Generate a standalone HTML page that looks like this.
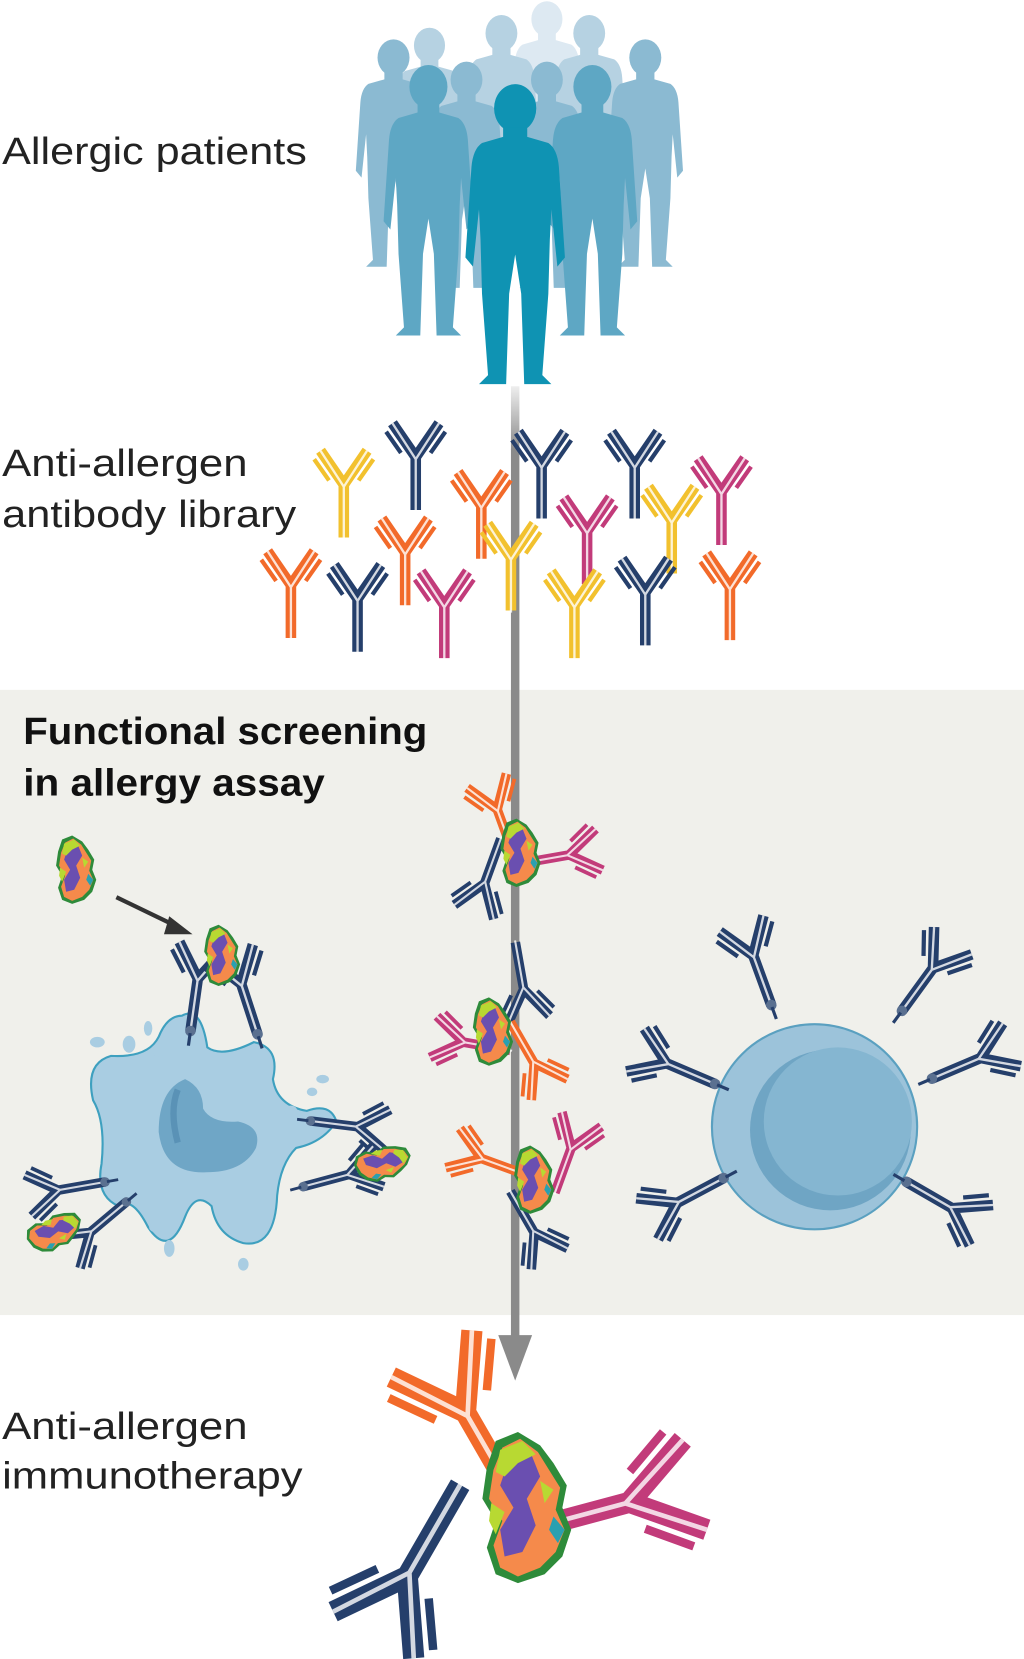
<!DOCTYPE html>
<html><head><meta charset="utf-8"><style>
html,body{margin:0;padding:0;background:#fff}
svg{display:block}
text{font-family:"Liberation Sans",sans-serif}
</style></head><body>
<svg width="1024" height="1659" viewBox="0 0 968 1568" xmlns="http://www.w3.org/2000/svg">
<defs>
<linearGradient id="lg" x1="0" y1="0" x2="0" y2="1"><stop offset="0" stop-color="#eee"/><stop offset="1" stop-color="#8a8a8a"/></linearGradient>
<g id="per">
<ellipse cx="0" cy="8.5" rx="7" ry="8"/>
<path d="M-4,15 L-4,18 L-11,20 Q-14,22 -14.5,28 L-16.5,58 L-14,61 L-12,42 L-11.5,52 L-11,70 L-9,97 L-12,100 L-3,100 L-2,70 L0,57 L2,70 L3,100 L12,100 L9,97 L11,70 L11.5,52 L12,42 L14,61 L16.5,58 L14.5,28 Q14,22 11,20 L4,18 L4,15 Z"/>
</g>
<g id="ab" fill="none">
<path d="M0,50 L0,0 L-22,-32 M0,0 L22,-32" stroke="currentColor" stroke-width="10"/>
<path d="M0,52 L0,2 L-22,-32 M0,2 L22,-32" stroke="#fff" stroke-opacity="0.8" stroke-width="2.2"/>
<path d="M-14,-4 L-28,-24 M14,-4 L28,-24" stroke="currentColor" stroke-width="4"/>
</g>
<g id="abk">
<use href="#ab"/>
<circle cx="0" cy="50" r="5" fill="#5a7090"/>
<path d="M0,52 L0,64" stroke="#253f6b" stroke-width="3"/>
</g>
<g id="alg">
<path d="M-14,-30 L-4,-34 L6,-28 L12,-20 L18,-10 L16,0 L20,10 L16,22 L8,30 L-4,34 L-14,30 L-18,18 L-14,6 L-20,-4 L-18,-18 Z" fill="#2e8b3a"/>
<path d="M-11,-27 L-3,-31 L5,-25 L10,-17 L15,-9 L13,1 L17,10 L13,20 L6,27 L-4,31 L-12,27 L-15,17 L-11,6 L-17,-4 L-15,-17 Z" fill="#f58a4b"/>
<path d="M-8,-22 L2,-24 L6,-14 L0,-4 L4,8 L-2,20 L-10,22 L-12,10 L-6,0 L-12,-10 Z" fill="#6a4fb0"/>
<path d="M-12,-26 L-2,-30 L4,-24 L-4,-20 L-10,-14 L-14,-16 Z M-16,-2 L-10,2 L-14,12 L-17,6 Z M6,-12 L12,-8 L8,-2 Z" fill="#b8d932"/>
<path d="M12,4 L17,10 L14,16 L10,10 Z" fill="#2aa0b0"/>
</g>
</defs>

<rect x="0" y="652" width="968" height="591" fill="#f0f0eb"/>

<g fill="#dde9f2"><use href="#per" transform="translate(517,0) scale(2.1)"/></g>
<g fill="#b6d2e2">
<use href="#per" transform="translate(406,25) scale(2.1)"/>
<use href="#per" transform="translate(474,13) scale(2.15)"/>
<use href="#per" transform="translate(557,13) scale(2.15)"/>
</g>
<g fill="#8bbad2">
<use href="#per" transform="translate(372,36) scale(2.16)"/>
<use href="#per" transform="translate(610,36) scale(2.16)"/>
<use href="#per" transform="translate(441,57) scale(2.15)"/>
<use href="#per" transform="translate(517,57) scale(2.15)"/>
</g>
<g fill="#5ea7c4">
<use href="#per" transform="translate(405,60) scale(2.57)"/>
<use href="#per" transform="translate(560,60) scale(2.57)"/>
</g>
<g fill="#0f93b3"><use href="#per" transform="translate(487,78) scale(2.85)"/></g>

<rect x="483" y="365" width="8" height="60" fill="url(#lg)"/>
<rect x="483" y="424" width="8" height="845" fill="#8a8a8a"/>
<path d="M471,1262 L503,1262 L487,1305 Z" fill="#8a8a8a"/>

<g font-size="36" fill="#222">
<text x="2" y="155" textLength="288" lengthAdjust="spacingAndGlyphs">Allergic patients</text>
<text x="2" y="450" textLength="232" lengthAdjust="spacingAndGlyphs">Anti-allergen</text>
<text x="2" y="498" textLength="278" lengthAdjust="spacingAndGlyphs">antibody library</text>
<text x="2" y="1360" textLength="232" lengthAdjust="spacingAndGlyphs">Anti-allergen</text>
<text x="2" y="1407" textLength="284" lengthAdjust="spacingAndGlyphs">immunotherapy</text>
</g>
<g font-size="36" font-weight="bold" fill="#111">
<text x="22" y="703" textLength="382" lengthAdjust="spacingAndGlyphs">Functional screening</text>
<text x="22" y="752" textLength="285" lengthAdjust="spacingAndGlyphs">in allergy assay</text>
</g>

<g>
<use href="#ab" color="#f2c12e" x="325" y="458"/>
<use href="#ab" color="#253f6b" x="393" y="432"/>
<use href="#ab" color="#253f6b" x="512" y="440"/>
<use href="#ab" color="#253f6b" x="600" y="440"/>
<use href="#ab" color="#c23b7a" x="682" y="465"/>
<use href="#ab" color="#f26a2a" x="455" y="478"/>
<use href="#ab" color="#c23b7a" x="555" y="502"/>
<use href="#ab" color="#f2c12e" x="635" y="492"/>
<use href="#ab" color="#f26a2a" x="383" y="522"/>
<use href="#ab" color="#f2c12e" x="483" y="527"/>
<use href="#ab" color="#f26a2a" x="275" y="553"/>
<use href="#ab" color="#253f6b" x="338" y="566"/>
<use href="#ab" color="#c23b7a" x="420" y="572"/>
<use href="#ab" color="#f2c12e" x="543" y="572"/>
<use href="#ab" color="#253f6b" x="610" y="560"/>
<use href="#ab" color="#f26a2a" x="690" y="555"/>
</g>

<use href="#alg" transform="translate(72,822) scale(0.95)"/>
<path d="M110,848 L168,876" stroke="#333" stroke-width="4"/>
<path d="M160,866 L182,883 L155,883 Z" fill="#333"/>

<path d="M172,960 Q190,950 196,990 Q210,1000 240,985 Q265,990 258,1020 Q262,1045 290,1050 Q312,1042 318,1060 Q305,1080 280,1085 Q265,1100 262,1130 Q260,1180 230,1175 Q205,1168 200,1140 Q185,1125 175,1150 Q160,1190 140,1160 Q125,1130 112,1140 Q90,1130 96,1100 Q100,1060 88,1040 Q80,1005 105,998 Q140,1000 150,980 Q158,960 172,960 Z" fill="#a9cde2" stroke="#3ea0bf" stroke-width="2"/>
<path d="M175,1020 Q150,1030 150,1070 Q155,1110 195,1108 Q230,1108 242,1085 Q248,1065 225,1060 Q200,1062 192,1048 Q192,1028 175,1020 Z" fill="#6fa6c6"/>
<path d="M168,1030 Q160,1050 168,1080" stroke="#5a92b6" stroke-width="6" fill="none"/>
<g fill="#a9cde2">
<ellipse cx="92" cy="985" rx="7" ry="5"/><ellipse cx="122" cy="987" rx="6" ry="8"/><ellipse cx="140" cy="972" rx="4" ry="7"/><ellipse cx="150" cy="995" rx="5" ry="4"/>
<ellipse cx="275" cy="1050" rx="6" ry="5"/><ellipse cx="295" cy="1032" rx="5" ry="4"/><ellipse cx="305" cy="1020" rx="6" ry="4"/>
<ellipse cx="148" cy="1160" rx="7" ry="5"/><ellipse cx="160" cy="1180" rx="5" ry="8"/><ellipse cx="230" cy="1195" rx="5" ry="6"/>
</g>
<use href="#abk" color="#253f6b" transform="translate(187,925) rotate(8)"/>
<use href="#abk" color="#253f6b" transform="translate(228,930) rotate(-18)"/>
<use href="#alg" transform="translate(210,903) scale(0.85)"/>
<use href="#abk" color="#253f6b" transform="translate(338,1065) rotate(97) scale(0.9)"/>
<use href="#abk" color="#253f6b" transform="translate(330,1110) rotate(75) scale(0.9)"/>
<use href="#alg" transform="translate(362,1100) rotate(80) scale(0.8)"/>
<use href="#abk" color="#253f6b" transform="translate(55,1125) rotate(-100) scale(0.9)"/>
<use href="#abk" color="#253f6b" transform="translate(85,1165) rotate(-130) scale(0.9)"/>
<use href="#alg" transform="translate(52,1165) rotate(70) scale(0.8)"/>

<circle cx="770" cy="1065" r="97" fill="#9cc3da" stroke="#5aa0c0" stroke-width="2"/>
<circle cx="785" cy="1068" r="76" fill="#6fa5c4"/>
<circle cx="792" cy="1060" r="70" fill="#85b6d1"/>
<use href="#abk" color="#253f6b" transform="translate(712,903) rotate(-20)"/>
<use href="#abk" color="#253f6b" transform="translate(882,915) rotate(36)"/>
<use href="#abk" color="#253f6b" transform="translate(630,1005) rotate(-67)"/>
<use href="#abk" color="#253f6b" transform="translate(927,1000) rotate(67)"/>
<use href="#abk" color="#253f6b" transform="translate(640,1137) rotate(-118)"/>
<use href="#abk" color="#253f6b" transform="translate(900,1142) rotate(120)"/>

<use href="#ab" color="#f26a2a" transform="translate(470,765) rotate(-20) scale(0.9)"/>
<use href="#ab" color="#c23b7a" transform="translate(538,808) rotate(80) scale(0.9)"/>
<use href="#ab" color="#253f6b" transform="translate(458,835) rotate(-160) scale(0.9)"/>
<use href="#alg" transform="translate(492,806) scale(0.95)"/>

<use href="#ab" color="#253f6b" transform="translate(495,935) rotate(-190) scale(0.9)"/>
<use href="#ab" color="#c23b7a" transform="translate(438,985) rotate(-80) scale(0.9)"/>
<use href="#ab" color="#f26a2a" transform="translate(505,1005) rotate(150) scale(0.9)"/>
<use href="#alg" transform="translate(466,975) scale(0.95)"/>

<use href="#ab" color="#f26a2a" transform="translate(455,1095) rotate(-70) scale(0.9)"/>
<use href="#ab" color="#c23b7a" transform="translate(540,1085) rotate(20) scale(0.9)"/>
<use href="#ab" color="#253f6b" transform="translate(505,1165) rotate(150) scale(0.9)"/>
<use href="#alg" transform="translate(505,1115) scale(0.95)"/>

<use href="#ab" color="#f26a2a" transform="translate(440,1335) rotate(-30) scale(2)"/>
<use href="#ab" color="#c23b7a" transform="translate(595,1420) rotate(75) scale(2)"/>
<use href="#ab" color="#253f6b" transform="translate(385,1490) rotate(-150) scale(2)"/>
<use href="#alg" transform="translate(498,1425) scale(2.1)"/>
</svg>
</body></html>
